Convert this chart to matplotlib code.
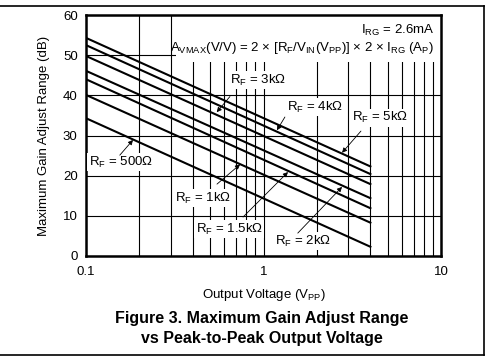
import matplotlib

matplotlib.use("Agg")
import matplotlib.pyplot as plt
from matplotlib.lines import Line2D
from matplotlib.patches import Rectangle

plt.rcParams["font.family"] = ["Liberation Sans", "DejaVu Sans"]
plt.rcParams["mathtext.fontset"] = "custom"
plt.rcParams["mathtext.rm"] = "Liberation Sans"
plt.rcParams["mathtext.it"] = "Liberation Sans"

# output voltage (Vpp) at the two ends of every curve
vpp = [0.1, 4.0]
rf_names = ["500Ω", "1kΩ", "1.5kΩ", "2kΩ", "3kΩ", "4kΩ", "5kΩ"]
gain_start = [34.3, 40.1, 44.0, 46.1, 49.8, 52.5, 54.3]
gain_end = [2.3, 8.3, 11.9, 14.4, 17.9, 20.4, 22.3]

# label position and arrow target for each curve (data coords)
label_xy = [(0.157, 23.4), (0.456, 14.4), (0.64, 6.7), (1.67, 3.7),
            (0.93, 43.8), (1.95, 37.1), (4.53, 34.4)]
arrow_tail = [(0.155, 25.1), (0.547, 17.9), (0.767, 9.7), (1.56, 5.7),
              (0.647, 39.7), (1.32, 34.6), (3.54, 31.1)]
arrow_head = [(0.184, 28.9), (0.738, 22.8), (1.374, 20.9), (2.77, 17.2),
              (0.545, 35.8), (1.19, 31.3), (2.77, 25.7)]

fs = 9.5

fig = plt.figure(figsize=(4.88, 3.59), dpi=100)
ax = fig.add_axes([86 / 488, 1 - 256 / 359, 355 / 488, 241 / 359])

ax.set_xscale("log")
ax.set_xlim(0.1, 10)
ax.set_ylim(0, 60)
ax.set_yticks(range(0, 61, 10))
ax.set_xticks([0.1, 1, 10])
ax.set_xticklabels(["0.1", "1", "10"])
ax.set_xticks([m * d for d in (0.1, 1) for m in range(2, 10)], minor=True)
ax.tick_params(which="both", length=0, labelsize=fs)
ax.tick_params(axis="y", pad=6)
ax.tick_params(axis="x", pad=7)
ax.grid(True, which="both", color="black", lw=0.8)
ax.set_axisbelow(True)
for s in ax.spines.values():
    s.set_linewidth(1.8)

# white area behind the formula at the top
ax.add_patch(Rectangle((0.254, 0.805), 0.746, 0.195, transform=ax.transAxes,
                       facecolor="white", edgecolor="none", zorder=1.5))

for g0, g1 in zip(gain_start, gain_end):
    ax.plot(vpp, [g0, g1], color="black", lw=1.5, zorder=3)

for name, xy, tail, head in zip(rf_names, label_xy, arrow_tail, arrow_head):
    ax.text(xy[0], xy[1], r"$\mathrm{R_F}$ = " + name, fontsize=fs,
            ha="center", va="center", zorder=4,
            bbox=dict(facecolor="white", edgecolor="none", pad=1))
    ax.annotate("", xy=head, xytext=tail, zorder=4,
                arrowprops=dict(arrowstyle="-|>", lw=0.6, color="black",
                                mutation_scale=7, shrinkA=0, shrinkB=0))

ax.text(9.14, 56.2, r"$\mathrm{I_{RG}}$ = 2.6mA", fontsize=fs,
        ha="right", va="center", zorder=4)
ax.text(9.14, 51.8,
        r"$\mathrm{A_{VMAX}}$(V/V) = 2 × [$\mathrm{R_F}$/$\mathrm{V_{IN}}$"
        r"($\mathrm{V_{PP}}$)] × 2 × $\mathrm{I_{RG}}$ ($\mathrm{A_P}$)",
        fontsize=fs, ha="right", va="center", zorder=4)

ax.set_ylabel("Maximum Gain Adjust Range (dB)", fontsize=fs, labelpad=9)
fig.text(263.5 / 488, 1 - 295 / 359, r"Output Voltage ($\mathrm{V_{PP}}$)",
         fontsize=fs, ha="center", va="center")
fig.text(262 / 488, 1 - 319 / 359, "Figure 3. Maximum Gain Adjust Range",
         fontsize=11.5, fontweight="bold", ha="center", va="center")
fig.text(262 / 488, 1 - 339 / 359, "vs Peak-to-Peak Output Voltage",
         fontsize=11.5, fontweight="bold", ha="center", va="center")

# page frame lines
for xs, ys in [((0, 484), (355, 355)), ((484, 484), (355, 6)), ((0, 484), (6, 6))]:
    fig.add_artist(Line2D([x / 488 for x in xs], [1 - y / 359 for y in ys],
                          color="black", lw=1.2))

fig.savefig("out.png", dpi=100)
